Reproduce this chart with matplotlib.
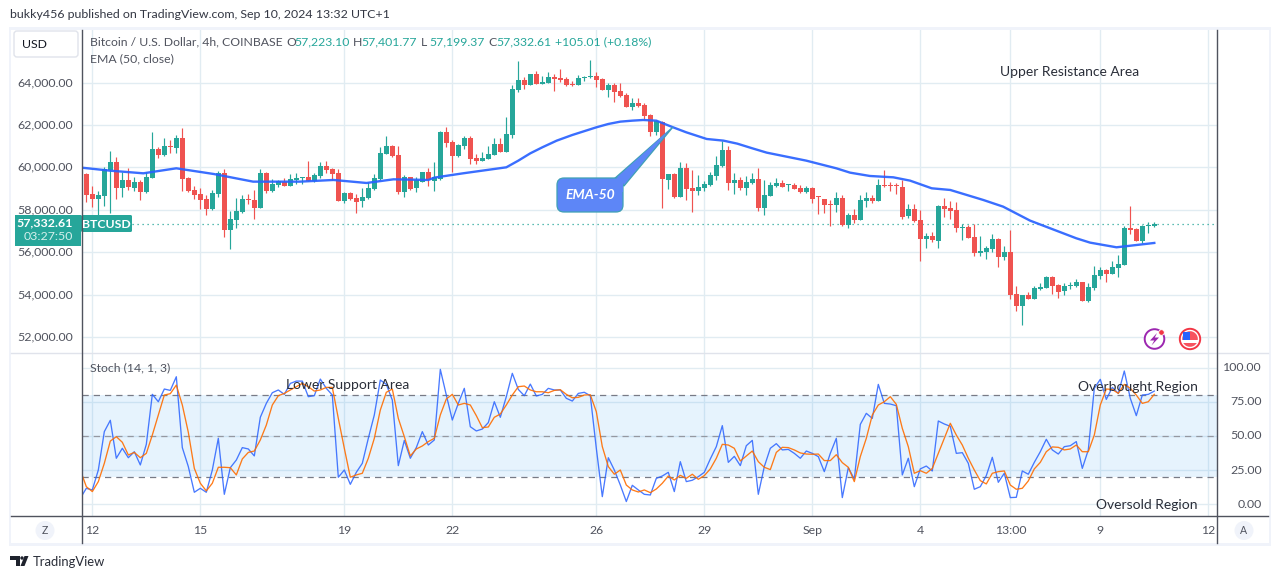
import matplotlib
matplotlib.use("Agg")
import matplotlib.pyplot as plt
from matplotlib.patches import FancyBboxPatch, Polygon, Rectangle, Circle, Wedge
from matplotlib.ticker import FixedLocator

plt.rcParams['font.family'] = ['Lato', 'DejaVu Sans']

directions = ("RRGGGRGRGR" "GGRGRGRRRR" "RGGRGGGRRG" "RGGRGGGRGG" "RRRGRRGGGG" "GRRGRGGR"
              "GGRRGGRRGG" "GRGGGRGRGG" "RRRRGGGRRG" "RRRGRRRGRG" "RGRRGGGGGR" "GRGGRGGGRG" "RRGRRRRGRGR"
              "GGRGRRRRGR" "RGRGRRRGRR" "GGGRGRRGRG" "GGRRGGGRGG" "GRGGGRRGGG")

highs = [59717,59120,58900,60031,60770,60487,59796,59953,59560,59403,
         59796,61666,60975,61368,61289,61525,61839,59560,59120,59010,
         58695,58931,59827,59921,57956,58569,58695,58742,58931,59921,
         59780,59450,59403,59513,59686,59717,59528,60299,59717,60236,
         60299,59953,59906,58852,58852,58727,59041,59324,59686,60959,
         61478,61053,61006,59638,59560,59544,59796,59953,
         60252,61713,61886,61289,61100,61478,61462,60629,60723,61006,
         61368,61383,62358,63883,65015,64260,64402,64543,64307,64496,
         64402,64637,64260,64071,64354,64307,65062,64496,64213,63993,
         63961,63961,63521,63270,63254,63034,62515,62248,62169,59686,
         59733,60252,60204,59874,59638,59355,59780,60534,61242,60990,
         59717,59544,59591,59733,59969,59403,59308,59481,59403,59214,
         59261,59167,59120,59088,58648,58507,58459,58837,58695,57830,
         58035,
         58695,58837,58695,59450,59874,59308,59245,59403,58271,58271,
         57988,56903,56950,58224,58554,58412,58365,57328,57280,57328,
         56762,56290,56856,56652,56290,57045,54404,53979,54121,54404,
         54545,54875,54875,54498,54545,54592,54734,54592,54545,55347,
         55315,55205,55583,55866,57233,58176,57139,57280,57422,57402]

body_upper = [59686,58742,58680,59921,60236,60236,59403,59403,59308,59308,
              59544,60865,60865,61006,61006,61383,61383,59497,58931,58742,
              58507,58790,59733,59733,57563,57941,58507,58507,58459,59748,
              59748,59214,59355,59324,59450,59497,59528,59544,59638,60063,
              60063,59921,59733,58790,58774,58554,58601,59025,59497,60676,
              61006,61006,60582,59544,59544,59403,59780,59780,
              59544,61666,61666,61195,61038,61383,61383,60440,60440,60629,
              61100,61100,61572,63694,64119,64103,64402,64402,64024,64260,
              64244,64213,64166,63930,64213,64260,64307,64307,64166,63883,
              63883,63600,63411,63034,63034,62940,62468,62169,62138,59686,
              59686,59969,59969,59025,59072,59214,59638,60110,60817,60817,
              59403,59403,59308,59450,59450,58695,59167,59261,59261,59182,
              59167,59025,59025,59025,58601,58507,58271,58554,58554,57752,
              57752,
              58459,58554,58554,59167,59167,59167,59167,59072,58035,58035,
              57516,56762,56762,58176,58176,58082,57988,57186,57186,56715,
              56054,56196,56620,56620,56007,56007,54026,53979,53979,54309,
              54357,54828,54828,54451,54404,54451,54592,54592,54357,54922,
              55158,55158,55300,55441,57139,57139,57092,57233,57280,57333]

body_lower = [58711,58522,58522,58664,59874,59041,59041,59088,59041,58852,
              58852,59513,60582,60582,60975,60927,59466,58900,58711,58475,
              58035,58035,58758,57045,57045,57516,57894,58459,58098,58066,
              58884,58884,59167,59135,59135,59403,59497,59340,59355,59591,
              59874,59686,58412,58428,58507,58381,58412,58569,58962,59434,
              60629,60550,58837,58837,58994,59025,59324,59387,
              59355,59466,61163,60534,60534,61006,60393,60299,60299,60393,
              60582,60723,60723,61525,63647,63883,63883,63930,63930,63977,
              64166,64119,63883,63883,63883,64213,64260,64119,63647,63647,
              63553,63364,62845,62845,62892,62421,61666,61666,59450,59403,
              58601,58601,58978,58884,58884,59025,59167,59591,60063,59261,
              59261,59025,59025,59261,58082,58082,58648,59120,59072,59167,
              58978,58837,58837,58507,58585,58224,58224,58224,57280,57280,
              57516,
              57516,58412,58412,58412,59120,59120,59135,57658,57705,57469,
              56620,56620,56573,56526,58035,57925,57139,57155,56667,55960,
              55960,56007,56149,55771,55771,53979,53460,53460,53791,53791,
              54262,54309,54404,54121,54168,54420,54404,53696,53696,54309,
              54875,54970,54970,55253,55394,57045,56526,56526,57233,57223]

lows = [58381,58145,57752,58176,57862,58507,58617,58931,58900,58459,
        58774,59513,60456,60534,60692,60692,58884,58852,58522,58035,
        57752,57988,58617,56730,56164,57155,57862,58271,57563,58066,
        58805,58837,59088,59135,59135,59214,59198,59340,59324,59497,
        59717,59403,58412,58302,58459,57862,58129,58507,58931,59403,
        60629,60503,58742,58617,58931,58852,59293,59120,
        58884,59403,60975,59780,60472,60849,60157,60157,60299,60393,
        60582,60723,60723,61383,63568,63694,63883,63930,63930,63961,
        63600,64024,63836,63836,63883,64071,64197,63789,63647,63317,
        63081,63317,62845,62704,62830,62279,61478,61525,58082,58978,
        58554,58601,58459,57894,58695,58884,59120,59403,60016,58931,
        58742,58931,58695,59214,57941,57752,58648,59072,59072,58884,
        58962,58790,58790,58318,57799,57846,57249,57894,57249,57139,
        57359,
        57516,58129,58318,58412,59072,58884,58742,57563,57610,57422,
        55583,56196,56479,56196,57658,57563,56950,56573,56667,55818,
        55818,55677,56007,55300,55630,53791,53225,52564,53791,53791,
        54215,54309,54026,53838,53979,54262,54357,53696,53649,54215,
        54734,54592,54970,54828,55394,56856,56526,56432,56903,57199]

ema_bars = [-0.8,3.9,9.5,15,21.2,27.8,35.6,41.2,46.7,51.2,57,58,62.8,66,70,72,74,76,78.4,81,85,87,89,91,92.8,95,97.8,
            100,103.4,106.2,108.5,111,113.4,120,125,127.3,130.6,134.5,137.3,140.9,144,149.5,152.8,157.3,165,167.3,171.7,178]
ema_values = [59984,59843,59717,59953,59686,59324,59324,59403,59261,59434,59403,59513,59717,59843,60000,60314,60660,60943,61258,
              61525,61886,62044,62154,62201,62232,62201,61886,61650,61336,61258,61116,60896,60692,60314,59953,59748,59591,
              59528,59371,59010,58931,58459,58145,57485,56652,56447,56227,56432]

stoch_k = [4.4,11.7,10.5,25.1,53.2,61.5,33.7,41,34.1,38.5,28.8,43.9,80.5,75.1,84.4,83.4,93.4,41.5,27.6,8.8,
           11.7,8.8,25.1,48.3,7.3,26.8,32.4,41.5,40.5,35.4,63.7,73.9,81.7,83.7,80.5,88.5,90.2,90.2,78.8,79.5,
           91.7,84.9,80,19.8,25.1,14.6,23.4,30,48.3,65.4,91,87.8,76.3,28.3,46.8,33.7,41.5,53.2,43.4,47.1,
           98.8,80,61.7,73.9,84.9,56.8,
           53.7,55.1,59.8,75.1,63.7,78.8,95.9,84.1,79.5,88,79.3,80.5,84.9,83.7,83.7,77.6,75.6,81.2,82,79.5,
           41,5.6,34.1,25.1,14.1,2,13.9,10.5,7.3,6.8,19,20.7,23.4,9.3,31.2,16.6,17.6,20.2,23.4,33.2,
           42.2,57.6,30.7,35.1,28.3,42.9,46.8,7.3,27.6,41,44.4,39.8,40.2,37.3,33.7,39,37.3,34.9,23.9,37.3,
           48.3,4.9,26.8,18.5,58.5,66.6,
           62.9,87.8,73.9,73.4,72.2,21.5,33.7,12.9,25.9,28,24.4,61,58.8,57.1,37.3,37.8,30,11,12.9,21,
           34.4,16.1,22.7,4.9,5.1,24.4,22,30.7,38.5,47.6,39.8,36.8,42.2,42.9,45.9,26.3,39.8,84.9,91.5,76.8,
           85.6,81.2,97.6,77.6,64.9,80,80.5,82.9]

stoch_d = [25.1,12.9,9.3,16.6,30,46.3,49.5,45.4,36.1,38,34.1,37.3,50.7,65.4,80,81,87.3,72.7,52.7,26.3,
           15.4,9.8,15.4,27.1,27.1,26.8,21.5,33.2,38,39,47.1,58,72.7,79.5,81.2,83.7,86.1,88.5,86.1,82.9,
           83.7,85.6,85.6,62.9,41,19.8,21.5,22.7,33.7,48.3,69,82,84.4,62.9,49.5,35.4,40.5,42.7,45.9,48.3,
           65.4,77.1,80.5,72.7,73.9,72.7,
           64.9,56.1,56.6,63.7,66.1,72.7,80,86.1,86.6,83.7,82.4,82.4,81.7,83.4,83.9,80.5,78,78.3,80,80.2,
           67.8,42.2,27.6,22,25.1,14.1,10.5,9,10.5,8.5,11.2,15.4,20.7,17.8,21.2,19,22,18.3,21,25.9,
           33.7,43.9,43.4,41,31.7,35.4,39,31.2,27.1,25.4,38,41.7,41.5,39.8,37.6,36.8,36.6,36.8,32,32,
           36.3,30.5,27.1,16.6,34.9,48.3,
           65.4,72.7,75.1,78.8,73.2,55.6,42.2,22.7,24.6,22.7,26.3,37.3,48.3,59.3,50.7,43.4,33.7,25.1,17.3,14.9,
           22.7,23.9,24.4,14.1,11,11.7,17.1,25.9,30.7,38.5,42,41.7,39.8,40.5,43.4,38.5,38.5,50.7,72.7,84.4,
           84.1,81.2,87.8,84.9,80,73.9,75.1,80.5]

price_ticks = [52000, 54000, 56000, 58000, 60000, 62000, 64000]
stoch_ticks = [0, 25, 50, 75, 100]
time_tick_bars = [1, 19, 43, 61, 85, 103, 121, 139, 154, 169, 187]
time_tick_labels = ["12", "15", "19", "22", "26", "29", "Sep", "4", "13:00", "9", "12"]
last_price = 57332.61

GREEN, RED = "#26A69A", "#EF5350"
GRID = "#E1ECF2"
TEXT = "#50535E"
AXIS = "#50535E"
W, H = 1281, 579


def rect(left, top, right, bottom):
    return [left / W, 1 - bottom / H, (right - left) / W, (bottom - top) / H]


fig = plt.figure(figsize=(W / 100, H / 100), dpi=100, facecolor="white")

ax = fig.add_axes(rect(81.7, 30, 1217.3, 352.7))
low_ax = fig.add_axes(rect(81.7, 352.7, 1217.3, 516.3))
for a in (ax, low_ax):
    a.set_xlim(-0.77, 188.5)
    a.xaxis.set_major_locator(FixedLocator(time_tick_bars))
    a.grid(True, axis="both", color=GRID, lw=1.0)
    a.set_axisbelow(True)
    a.tick_params(length=0, labelbottom=False, labelleft=False)
    for s in a.spines.values():
        s.set_visible(False)

# price pane
ax.set_ylim(51255, 66477)
ax.yaxis.set_major_locator(FixedLocator(price_ticks))
min_h = 50
for i, d in enumerate(directions):
    c = GREEN if d == "G" else RED
    ax.vlines(i, lows[i], highs[i], color=c, lw=0.85, zorder=3)
    ax.bar(i, max(body_upper[i] - body_lower[i], min_h), bottom=body_lower[i], width=0.84,
           color=c, lw=0, zorder=3)
ax.plot(ema_bars, ema_values, color="#2962FF", lw=1.7, alpha=0.92, zorder=4, solid_joinstyle="round")
ax.axhline(last_price, color=GREEN, lw=0.9, ls=(0, (1, 3)), zorder=2)

# stochastic pane
low_ax.set_ylim(-8.8, 111)
low_ax.yaxis.set_major_locator(FixedLocator(stoch_ticks))
low_ax.axhspan(20, 80, color="#2196F3", alpha=0.11, lw=0, zorder=1)
for lvl, col in ((80, "#787B86"), (50, "#9598A1"), (20, "#787B86")):
    low_ax.axhline(lvl, color=col, lw=0.9, ls=(0, (5, 4)), zorder=2)
bars = list(range(-1, 179))
low_ax.plot(bars, stoch_k, color="#2962FF", lw=0.95, alpha=0.85, zorder=3)
low_ax.plot(bars, stoch_d, color="#FF6D00", lw=0.95, alpha=0.9, zorder=4)

# page chrome in pixel coordinates
ov = fig.add_axes([0, 0, 1, 1], zorder=10)
ov.set_xlim(0, W)
ov.set_ylim(H, 0)
ov.axis("off")
ov.patch.set_alpha(0)


def txt(x, y, s, size=8.8, color=TEXT, ha="left", **kw):
    ov.text(x, y, s, fontsize=size, color=color, ha=ha, va="center", **kw)


frame = "#F0F3FA"
ov.add_patch(Rectangle((10, 27), 1260, 2.5, color=frame, lw=0))
ov.add_patch(Rectangle((9, 27), 1.8, 518, color=frame, lw=0))
ov.add_patch(Rectangle((1268.5, 27), 2.5, 518, color=frame, lw=0))
ov.add_patch(Rectangle((9, 543), 1262, 2.5, color=frame, lw=0))
ov.plot([11, 1268], [352.7, 352.7], color="#E0E3EB", lw=1)
ov.plot([81.7, 81.7], [30, 543], color=AXIS, lw=1)
ov.plot([1217.3, 1217.3], [30, 543], color=AXIS, lw=1)
ov.plot([11, 1268], [516.3, 516.3], color=AXIS, lw=1)

txt(10, 15, "bukky456 published on TradingView.com, Sep 10, 2024 13:32 UTC+1", size=8.9, color="#333743")

ov.add_patch(FancyBboxPatch((14, 31), 64, 26, boxstyle="round,pad=0,rounding_size=3",
                            fc="white", ec="#E0E3EB", lw=1))
txt(34.5, 44.5, "USD", size=8.8, color="#131722", ha="center")

txt(90, 42, "Bitcoin / U.S. Dollar, 4h, COINBASE", size=8.8)
for x, k, v in ((286, "O", "57,223.10"), (353, "H", "57,401.77"), (421, "L", "57,199.37"), (488, "C", "57,332.61")):
    txt(x, 42, k, size=8.8)
    txt(x + 8.5, 42, v, size=8.8, color=GREEN)
txt(555, 42, "+105.01 (+0.18%)", size=8.8, color=GREEN)
txt(90, 59, "EMA (50, close)", size=8.8)
txt(90, 368, "Stoch (14, 1, 3)", size=8.8)

for p in price_ticks:
    y = 167.3 - (p - 60000) / 47.17
    txt(73, y, f"{p:,.2f}", size=8.9, ha="right")
for s in stoch_ticks:
    txt(1262, 504.3 - s * 1.367, f"{s:.2f}", size=8.9, ha="right")
for b, lab in zip(time_tick_bars, time_tick_labels):
    txt(86.3 + 6 * b, 530, lab, size=8.8, ha="center")

# last price tags
ov.add_patch(Rectangle((15, 215), 66, 31, color=GREEN, lw=0))
ov.add_patch(FancyBboxPatch((81, 215), 51, 17, boxstyle="round,pad=0,rounding_size=1.5", fc=GREEN, ec=GREEN, lw=0))
txt(73, 223, "57,332.61", size=8.9, color="white", ha="right", fontweight="bold")
txt(73, 237, "03:27:50", size=8.9, color="#D5F0EC", ha="right")
txt(106, 224, "BTCUSD", size=8.8, color="white", ha="center", fontweight="bold")

# drawing annotations
ann = "#2A2E39"
txt(1000, 72, "Upper Resistance Area", size=10, color=ann)
txt(286, 385, "Lower Support Area", size=10, color=ann)
txt(1078, 387, "Overbought Region", size=10, color=ann)
txt(1096, 505, "Oversold Region", size=10, color=ann)

# EMA-50 callout
call = "#5D86F7"
ov.add_patch(Polygon([(614, 179), (673, 127), (624, 186)], closed=True, fc=call, ec="#3FA0B5", lw=0.9, zorder=5))
ov.add_patch(FancyBboxPatch((557, 178), 66, 34, boxstyle="round,pad=0,rounding_size=7",
                            fc=call, ec="#3FA0B5", lw=0.9, zorder=5))
ov.add_patch(Polygon([(615, 180), (670, 129), (623, 184), (623, 192), (605, 192)], closed=True, fc=call, lw=0, zorder=6))
ov.text(590, 195, "EMA-50", fontsize=10, color="white", ha="center", va="center", style="italic",
        fontweight="bold", zorder=7)

# small badges
ov.add_patch(Circle((1154.5, 339), 9.8, fc="white", ec="#9C27B0", lw=1.4))
ov.add_patch(Polygon([(1157, 333), (1150, 340.5), (1154.3, 340.5), (1151.5, 345.5), (1159, 337.5), (1154.8, 337.5)],
                     closed=True, fc="#9C27B0", lw=0))
ov.add_patch(Circle((1161.5, 332.5), 2.8, fc="#F23645", ec="white", lw=0.6))
ov.add_patch(Circle((1190, 339), 10.2, fc="white", ec="#F23645", lw=1.4))
ov.add_patch(Wedge((1190, 339), 7.8, 0, 360, fc="#F7525F", lw=0))
ov.add_patch(Rectangle((1182.3, 340), 15.4, 3, color="white", lw=0))
ov.add_patch(Rectangle((1182.5, 332), 7.5, 8, color="#2962FF", lw=0))

# scale buttons
for cx, lab in ((45, "Z"), (1244, "A")):
    ov.add_patch(Circle((cx, 530.5), 9.5, fc="#F0F3FA", lw=0))
    txt(cx, 530.5, lab, size=7.6, ha="center")

# logo
ov.add_patch(Polygon([(10, 556), (20, 556), (20, 566), (15.5, 566), (15.5, 560), (10, 560)], closed=True, fc="#1E222D", lw=0))
ov.add_patch(Circle((22, 558), 1.7, fc="#1E222D", lw=0))
ov.add_patch(Polygon([(24.5, 556), (28.5, 556), (24.5, 566), (20.5, 566)], closed=True, fc="#1E222D", lw=0))
txt(33, 561.5, "TradingView", size=9.4, color="#2A2E39")

fig.savefig("out.png", dpi=100, facecolor="white")
